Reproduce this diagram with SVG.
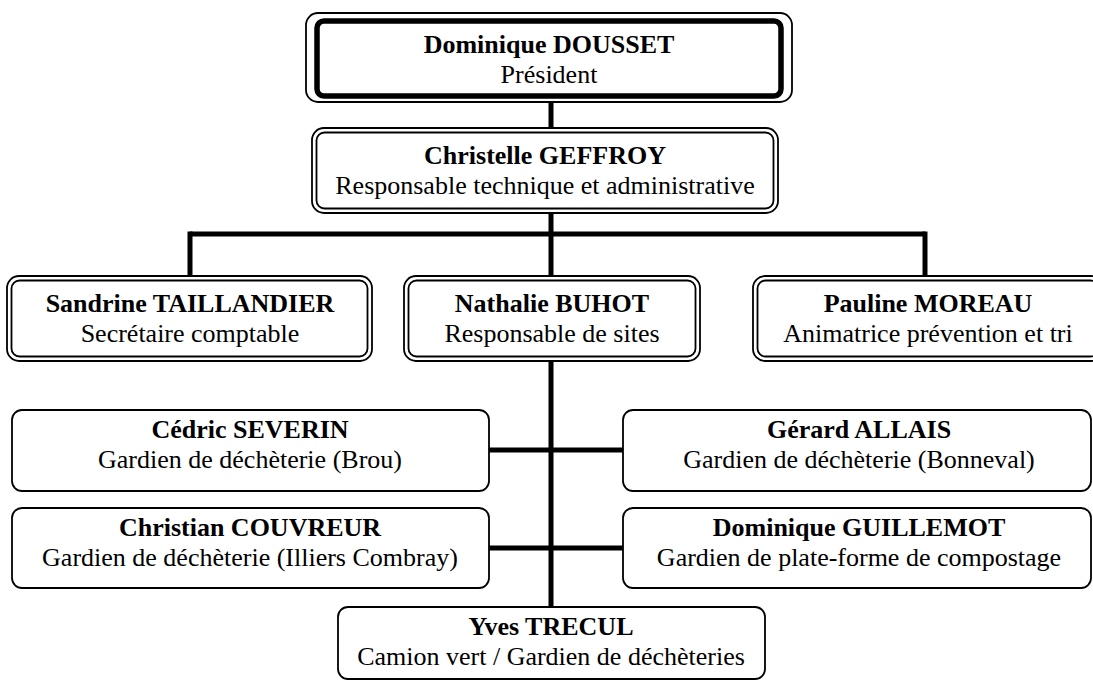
<svg xmlns="http://www.w3.org/2000/svg" width="1093" height="681" viewBox="0 0 1093 681">
<style>
.bg{fill:#fff}
.thin{fill:none;stroke:#000;stroke-width:1.8}
.thick{fill:none;stroke:#000;stroke-width:5.5}
.conn{fill:none;stroke:#000;stroke-width:5}
text{font-family:"Liberation Serif","Times New Roman",serif;font-size:26px;fill:#000;text-anchor:middle}
.name{font-weight:bold}
</style>
<rect class="bg" x="0" y="0" width="1093" height="681"/>
<g id="connectors">
<line class="conn" x1="551" y1="102" x2="551" y2="128"/>
<line class="conn" x1="551" y1="213" x2="551" y2="276"/>
<line class="conn" x1="190" y1="234" x2="925" y2="234"/>
<line class="conn" x1="190" y1="231.5" x2="190" y2="276"/>
<line class="conn" x1="925" y1="231.5" x2="925" y2="276"/>
<line class="conn" x1="551" y1="361" x2="551" y2="607"/>
<line class="conn" x1="489" y1="450" x2="623" y2="450"/>
<line class="conn" x1="489" y1="548" x2="623" y2="548"/>
</g>
<g id="node-dousset">
<rect class="thin" x="306" y="13" width="486" height="89" rx="12"/>
<rect class="thick" x="317" y="21" width="464" height="75" rx="7"/>
<text class="name" x="549" y="53">Dominique DOUSSET</text>
<text x="549" y="83">Président</text>
</g>
<g id="node-geffroy">
<rect class="thin" x="312" y="128" width="466" height="85" rx="12"/>
<rect class="thin" x="316.5" y="132.5" width="457" height="76" rx="8"/>
<text class="name" x="545" y="164">Christelle GEFFROY</text>
<text x="545" y="194">Responsable technique et administrative</text>
</g>
<g id="node-taillandier">
<rect class="thin" x="7" y="276" width="365" height="85" rx="12"/>
<rect class="thin" x="11.5" y="280.5" width="356" height="76" rx="8"/>
<text class="name" x="190" y="312">Sandrine TAILLANDIER</text>
<text x="190" y="342">Secrétaire comptable</text>
</g>
<g id="node-buhot">
<rect class="thin" x="404" y="276" width="296" height="85" rx="12"/>
<rect class="thin" x="408.5" y="280.5" width="287" height="76" rx="8"/>
<text class="name" x="552" y="312">Nathalie BUHOT</text>
<text x="552" y="342">Responsable de sites</text>
</g>
<g id="node-moreau">
<rect class="thin" x="753" y="276" width="350" height="85" rx="12"/>
<rect class="thin" x="757.5" y="280.5" width="341" height="76" rx="8"/>
<text class="name" x="928" y="312">Pauline MOREAU</text>
<text x="928" y="342">Animatrice prévention et tri</text>
</g>
<g id="node-severin">
<rect class="thin" x="12" y="410" width="477" height="81" rx="10"/>
<text class="name" x="250" y="438">Cédric SEVERIN</text>
<text x="250" y="468">Gardien de déchèterie (Brou)</text>
</g>
<g id="node-allais">
<rect class="thin" x="623" y="410" width="468" height="81" rx="10"/>
<text class="name" x="859" y="438">Gérard ALLAIS</text>
<text x="859" y="468">Gardien de déchèterie (Bonneval)</text>
</g>
<g id="node-couvreur">
<rect class="thin" x="12" y="508" width="477" height="80" rx="10"/>
<text class="name" x="250" y="536">Christian COUVREUR</text>
<text x="250" y="566">Gardien de déchèterie (Illiers Combray)</text>
</g>
<g id="node-guillemot">
<rect class="thin" x="623" y="508" width="468" height="80" rx="10"/>
<text class="name" x="859" y="536">Dominique GUILLEMOT</text>
<text x="859" y="566">Gardien de plate-forme de compostage</text>
</g>
<g id="node-trecul">
<rect class="thin" x="338" y="607" width="427" height="72" rx="10"/>
<text class="name" x="551" y="635">Yves TRECUL</text>
<text x="551" y="665">Camion vert / Gardien de déchèteries</text>
</g>
</svg>
